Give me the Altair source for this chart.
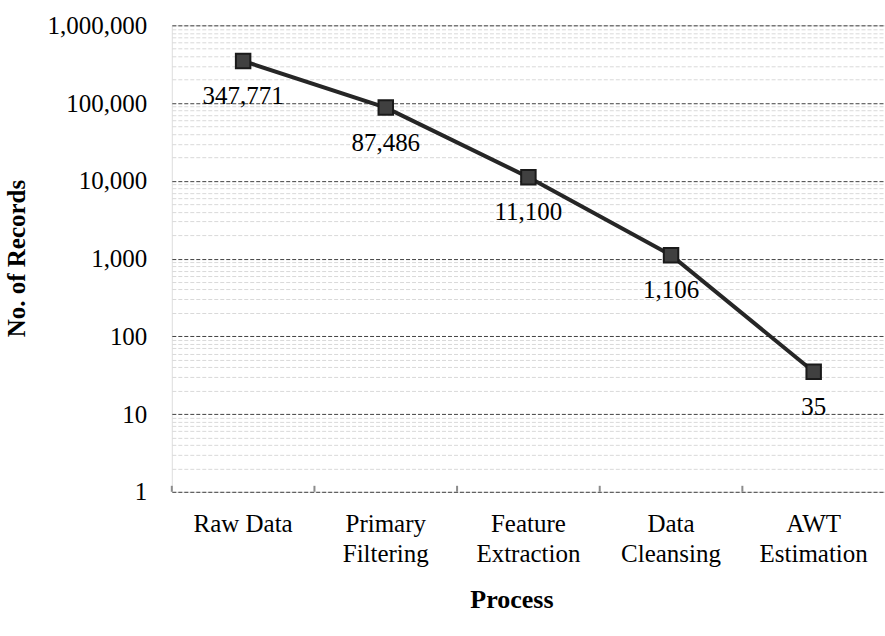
import altair as alt
import pandas as pd

processes = ["Raw Data", "Primary Filtering", "Feature Extraction", "Data Cleansing", "AWT Estimation"]
records = [347771, 87486, 11100, 1106, 35]

decades = [1, 10, 100, 1000, 10000, 100000, 1000000]
tick_values = [m * 10 ** k for k in range(6) for m in range(1, 10)] + [1000000]

df = pd.DataFrame({"process": processes, "records": records})

FONT = "Liberation Serif"
major_test = "indexof([1,10,100,1000,10000,100000,1000000], datum.value) >= 0"

x_enc = alt.X(
    "process:N",
    sort=processes,
    title="Process",
    axis=alt.Axis(
        labelAngle=0,
        labelExpr="datum.label == 'Raw Data' ? datum.label : split(datum.label, ' ')",
        labelFont=FONT,
        labelFontSize=25,
        labelColor="black",
        labelLineHeight=30,
        labelBaseline="top",
        labelPadding=20,
        ticks=False,
        domain=False,
        grid=False,
        titleFont=FONT,
        titleFontSize=26,
        titleFontWeight="bold",
        titleColor="black",
        titleX=340,
        titleY=108,
        titleBaseline="middle",
        titleAnchor="start",
        titleAlign="center",
    ),
)

y_enc = alt.Y(
    "records:Q",
    scale=alt.Scale(type="log", domain=[1, 1000000]),
    title="No. of Records",
    axis=alt.Axis(
        values=tick_values,
        labelExpr="indexof([1,10,100,1000,10000,100000,1000000], datum.value) >= 0 ? format(datum.value, ',') : ''",
        labelOverlap=False,
        labelFont=FONT,
        labelFontSize=25,
        labelColor="black",
        labelPadding=25,
        ticks=False,
        domain=False,
        grid=True,
        gridColor={"condition": {"test": major_test, "value": "#404040"}, "value": "#d9d9d9"},
        gridDash=[4, 2],
        gridWidth=1,
        titleFont=FONT,
        titleFontSize=25,
        titleFontWeight="bold",
        titleColor="black",
        titleX=-155,
        titleY=233,
        titleBaseline="middle",
        titleAlign="center",
    ),
)

base = alt.Chart(df)

line = base.mark_line(color="#262626", strokeWidth=4).encode(x=x_enc, y=y_enc)
points = base.mark_point(
    shape="square", size=210, filled=True, fill="#404040", stroke="#1a1a1a", strokeWidth=2, opacity=1
).encode(x=x_enc, y=y_enc)
labels = base.mark_text(
    dy=35, font=FONT, fontSize=25, color="black"
).encode(x=x_enc, y=y_enc, text=alt.Text("records:Q", format=","))
ticks = base.mark_rule(color="#8c8c8c", strokeWidth=2, xOffset=-71.4).encode(
    x=x_enc, y=alt.value(461), y2=alt.value(467)
)

chart = (
    alt.layer(line, points, labels, ticks)
    .properties(
        width=714,
        height=467,
        autosize=alt.AutoSizeParams(type="none"),
        padding={"left": 172, "top": 25, "right": 0, "bottom": 144},
    )
    .configure_view(stroke="#8c8c8c", strokeWidth=2)
    .configure(background="white")
)

chart.save("out.html", embed_options={"renderer": "svg", "actions": False})
